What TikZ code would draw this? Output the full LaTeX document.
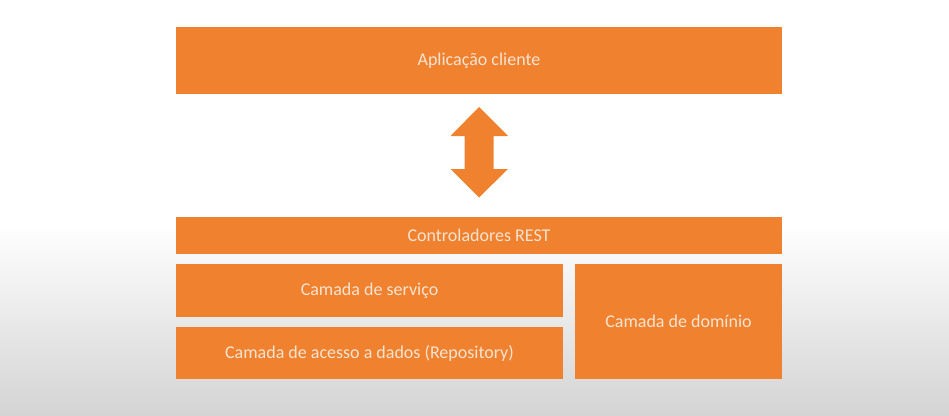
\documentclass[tikz,border=0pt]{standalone}
\usepackage{fontspec}
\setmainfont{Carlito}
\usetikzlibrary{positioning}
\definecolor{boxorange}{HTML}{F0812E}
\definecolor{boxtext}{HTML}{F6E4D2}
\begin{document}
\begin{tikzpicture}[x=1pt,y=-1pt,
  layer/.style={fill=boxorange, draw=none, text=boxtext, inner sep=0pt,
    font=\fontsize{18}{21}\selectfont}]
\useasboundingbox (0,0) rectangle (949,415);
\fill[white] (0,0) rectangle (949,415);
\shade[top color=white, bottom color=black!17] (0,225) rectangle (949,415);
\node[layer, minimum width=606pt, minimum height=67pt] (app) at (479,60.5) {\raisebox{-3pt}{Aplicação cliente}};
\node[layer, minimum width=606pt, minimum height=37pt] (rest) at (479,235.5) {\raisebox{-3pt}{Controladores REST}};
\node[layer, minimum width=387pt, minimum height=53pt] (serv) at (369.5,290.5) {\raisebox{-3pt}{Camada de serviço}};
\node[layer, minimum width=387pt, minimum height=52pt] (repo) at (369.5,353) {\raisebox{-3pt}{Camada de acesso a dados (Repository)}};
\node[layer, minimum width=207pt, minimum height=115pt] (dom) at (678.5,321.5) {\raisebox{-3pt}{Camada de domínio}};
% double-headed block arrow
\fill[boxorange] (479,107) -- (508,136) -- (493.5,136) -- (493.5,169) -- (508,169)
  -- (479,197.5) -- (450.5,169) -- (464.5,169) -- (464.5,136) -- (450.5,136) -- cycle;
\end{tikzpicture}
\end{document}
